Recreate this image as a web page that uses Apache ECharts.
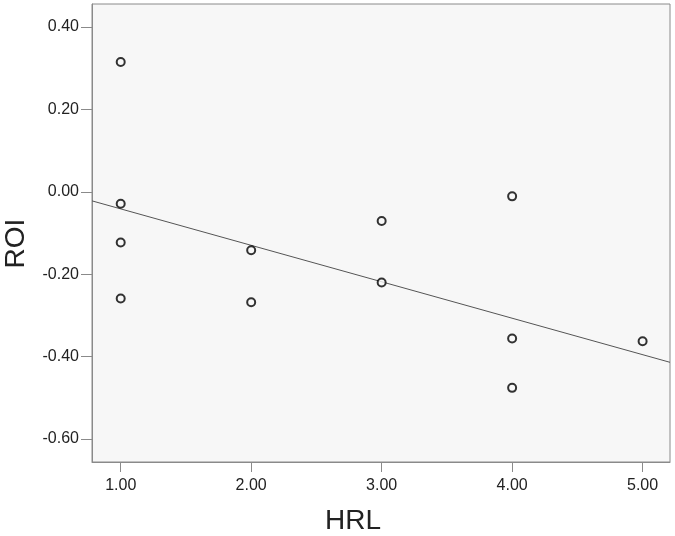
<!DOCTYPE html>
<html>
<head>
<meta charset="utf-8">
<script src="https://cdn.jsdelivr.net/npm/echarts@6/dist/echarts.min.js"></script>
<style>
  html, body { margin: 0; padding: 0; background: #fff; }
  #chart { width: 675px; height: 536px; }
</style>
</head>
<body>
<div id="chart"></div>
<script>
// HRL vs ROI
const hrl = [1, 1, 1, 1, 2, 2, 3, 3, 4, 4, 4, 5];
const roi = [0.315, -0.029, -0.123, -0.259, -0.142, -0.268, -0.071, -0.220, -0.011, -0.356, -0.476, -0.363];
// fit line, ends at the plot edges
const fitX = [0.78, 5.21];
const fitY = [-0.022, -0.414];
const xTicks = [1, 2, 3, 4, 5];
const yTicks = [-0.6, -0.4, -0.2, 0, 0.2, 0.4];

const chart = echarts.init(document.getElementById("chart"));

const axisGrey = "#8a8a8a";
const font = "Liberation Sans, Arial, sans-serif";
const labelStyle = {
  color: "#222",
  fontFamily: font,
  fontSize: 16,
};

chart.setOption({
  animation: false,
  grid: {
    left: 92,
    right: 5,
    top: 4,
    bottom: 74,
    outerBoundsMode: "none",
    containLabel: false,
    show: true,
    backgroundColor: "#f7f7f7",
    borderColor: axisGrey,
    borderWidth: 1,
  },
  xAxis: {
    type: "value",
    min: 0.78,
    max: 5.21,
    name: "HRL",
    nameLocation: "middle",
    nameGap: 45,
    nameTextStyle: { color: "#222", fontFamily: font, fontSize: 28, padding: [0, 56, 0, 0] },
    splitLine: { show: false },
    axisLine: { show: true, onZero: false, lineStyle: { color: axisGrey } },
    axisTick: { show: true, length: 10, customValues: xTicks, lineStyle: { color: axisGrey } },
    axisLabel: Object.assign({
      customValues: xTicks,
      margin: 16,
      formatter: (v) => v.toFixed(2),
    }, labelStyle),
  },
  yAxis: {
    type: "value",
    min: -0.656,
    max: 0.456,
    name: "ROI",
    nameLocation: "middle",
    nameGap: 62,
    nameTextStyle: { color: "#222", fontFamily: font, fontSize: 28, padding: [0, 21, 0, 0] },
    splitLine: { show: false },
    axisLine: { show: true, onZero: false, lineStyle: { color: axisGrey } },
    axisTick: { show: true, length: 11, customValues: yTicks, lineStyle: { color: axisGrey } },
    axisLabel: Object.assign({
      customValues: yTicks,
      margin: 13,
      formatter: (v) => v.toFixed(2),
    }, labelStyle),
  },
  series: [
    {
      type: "line",
      data: fitX.map((x, i) => [x, fitY[i]]),
      showSymbol: false,
      symbol: "none",
      lineStyle: { color: "#555", width: 1 },
      silent: true,
      z: 1,
    },
    {
      type: "scatter",
      data: hrl.map((x, i) => [x, roi[i]]),
      symbol: "circle",
      symbolSize: 8,
      itemStyle: { color: "#f7f7f7", borderColor: "#000", borderWidth: 2 },
      z: 2,
    },
  ],
});
</script>
</body>
</html>
